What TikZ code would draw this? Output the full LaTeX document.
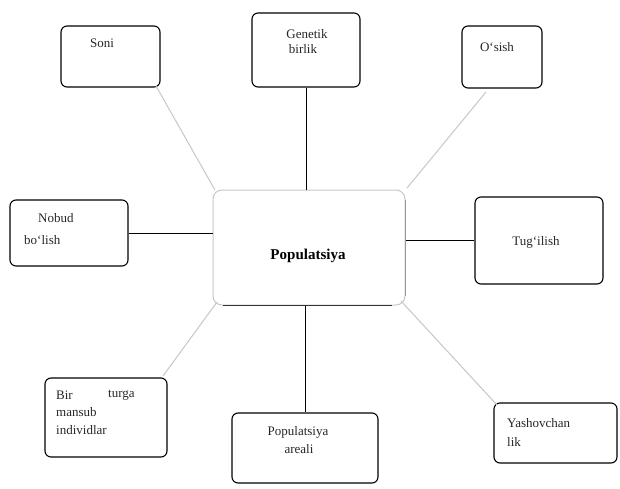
\documentclass[tikz,border=0pt]{standalone}
\usepackage{fontspec}
\setmainfont{Liberation Serif}
\begin{document}
\begin{tikzpicture}[x=1pt,y=-1pt,
  box/.style={draw=black,line width=1.1pt,rounded corners=6pt},
  lbl/.style={font=\fontsize{13}{15}\selectfont,text=black!85,inner sep=0pt,anchor=west},
  clbl/.style={font=\fontsize{13}{15}\selectfont,text=black!85,inner sep=0pt},
  link/.style={draw=black,line width=1pt},
  faint/.style={draw=black!22,line width=1pt}]
\useasboundingbox (0,0) rectangle (620,489);
% boxes
\node[box,minimum width=99pt,minimum height=61pt] (soni) at (110.5,56.5) {};
\node[box,minimum width=108pt,minimum height=74pt] (gen) at (306,50) {};
\node[box,minimum width=80pt,minimum height=62pt] (osish) at (502,57) {};
\node[box,minimum width=118pt,minimum height=66pt] (nobud) at (69,233) {};
\node[draw=black!22,line width=1pt,rounded corners=9pt,minimum width=192pt,minimum height=115pt] (pop) at (309,247.5) {};
\node[box,minimum width=128pt,minimum height=87pt] (tug) at (539,240.5) {};
\node[box,minimum width=122pt,minimum height=79pt] (bir) at (106,417.5) {};
\node[box,minimum width=146pt,minimum height=70pt] (areal) at (305,448) {};
\node[box,minimum width=123pt,minimum height=60pt] (yash) at (555.5,433) {};
% center box emphasis
\draw[line width=1.6pt,black!80] ([xshift=10pt]pop.south west) -- ([xshift=-14pt]pop.south east);
\draw[line width=0.8pt,black!40] ([yshift=-10pt]pop.north east) -- ([yshift=10pt]pop.south east);
% texts
\node[clbl] (tsoni) at (102,43) {Soni};
\node[clbl] (tgen1) at (307,34) {Genetik};
\node[clbl] (tgen2) at (303,49) {birlik};
\node[clbl] (tosish) at (497,47) {O`sish};
\node[lbl] (tnob1) at (38,218) {Nobud};
\node[lbl] (tnob2) at (24,240) {bo`lish};
\node[clbl,font=\fontsize{15}{17}\selectfont\bfseries,text=black] (tpop) at (308,256) {Populatsiya};
\node[clbl] (ttug) at (536,242) {Tug`ilish};
\node[lbl] (tbir1) at (56,395) {Bir};
\node[lbl] (tbir2) at (108,395) {turga};
\node[lbl] (tbir3) at (56,412) {mansub};
\node[lbl] (tbir4) at (56,430) {individlar};
\node[clbl] (tar1) at (298,432) {Populatsiya};
\node[clbl] (tar2) at (299,449) {areali};
\node[lbl] (tya1) at (507,423) {Yashovchan};
\node[lbl] (tya2) at (507,442) {lik};
% connectors
\draw[link] (gen.south) -- (gen.south |- pop.north);
\draw[link] (nobud.east) -- (pop.west |- nobud.east);
\draw[link] (pop.east |- tug.west) -- (tug.west);
\draw[link] (areal.north) -- (areal.north |- pop.south);
\coordinate (c1) at (156,86);
\coordinate (c2) at (215,190);
\draw[faint] (c1) -- (c2);
\coordinate (c3) at (486,92);
\coordinate (c4) at (407,188);
\draw[faint] (c3) -- (c4);
\coordinate (c5) at (163,376);
\coordinate (c6) at (217,302);
\draw[faint] (c5) -- (c6);
\coordinate (c7) at (497,405);
\coordinate (c8) at (401,301);
\draw[faint] (c7) -- (c8);
\end{tikzpicture}
\end{document}
